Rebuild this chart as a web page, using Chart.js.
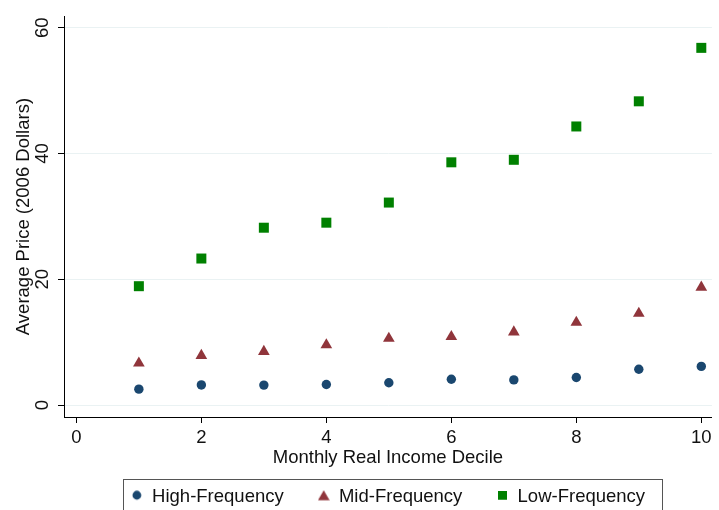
<!DOCTYPE html>
<html>
<head>
<meta charset="utf-8">
<script src="https://cdn.jsdelivr.net/npm/chart.js@4"></script>
<style>
  html, body { margin: 0; padding: 0; background: #fff; }
  canvas { display: block; }
</style>
</head>
<body>
<canvas id="chart" width="719" height="510"></canvas>
<script>
// Income deciles and average prices (2006 dollars) by purchase frequency
const deciles = [1, 2, 3, 4, 5, 6, 7, 8, 9, 10];
const highFrequency = [2.53, 3.2, 3.17, 3.27, 3.54, 4.1, 4.0, 4.38, 5.7, 6.15];
const midFrequency = [6.65, 7.86, 8.5, 9.55, 10.6, 10.87, 11.6, 13.14, 14.56, 18.73];
const lowFrequency = [18.9, 23.3, 28.2, 29.0, 32.2, 38.6, 39.0, 44.3, 48.3, 56.8];

const seriesNames = ['High-Frequency', 'Mid-Frequency', 'Low-Frequency'];
const xTickValues = [0, 2, 4, 6, 8, 10];
const yTickValues = [0, 20, 40, 60];

const FONT = "'Liberation Sans', Arial, Helvetica, sans-serif";
const FONT_SIZE = 18.5;
const TEXT = '#111';
const NAVY = '#1a476f';
const MAROON = '#90353b';
const GREEN = '#008000';
const LEGEND_HEIGHT = 56;

const toPoints = ys => deciles.map((d, i) => ({ x: d, y: ys[i] }));

// Small marker images for the legend keys; the shape sits in the upper part
// of the image so the key lines up with the capital letters of the label.
function markerImage(w, h, color, draw) {
  const lift = 4;
  const c = document.createElement('canvas');
  c.width = w;
  c.height = h + lift;
  const g = c.getContext('2d');
  g.fillStyle = color;
  g.beginPath();
  draw(g, w, h);
  g.fill();
  return c;
}
const legendMarkers = [
  markerImage(10, 10, NAVY, (g) => g.arc(5, 5, 4.4, 0, Math.PI * 2)),
  markerImage(12, 11, MAROON, (g, w, h) => { g.moveTo(w / 2, 0.5); g.lineTo(w - 0.2, h - 0.5); g.lineTo(0.2, h - 0.5); g.closePath(); }),
  markerImage(9, 9, GREEN, (g, w, h) => g.rect(0, 0, w, h))
];

// Keeps the legend row short (its label padding is only meant to space items
// horizontally) and draws a thin frame around it.
const legendFrame = {
  id: 'legendFrame',
  beforeLayout(chart) {
    const lg = chart.legend;
    if (lg && !lg._heightFixed) {
      const fit = lg.fit.bind(lg);
      lg.fit = function () { fit(); this.height = LEGEND_HEIGHT; };
      lg._heightFixed = true;
    }
  },
  afterDraw(chart) {
    const boxes = chart.legend && chart.legend.legendHitBoxes;
    if (!boxes || !boxes.length) return;
    const first = boxes[0];
    const last = boxes[boxes.length - 1];
    const ctx = chart.ctx;
    const l = Math.round(first.left - 8) + 0.5;
    const r = Math.round(last.left + last.width + 17) + 0.5;
    const t = Math.round(first.top - 9) + 0.5;
    ctx.save();
    ctx.strokeStyle = '#555';
    ctx.lineWidth = 1;
    ctx.strokeRect(l, t, r - l, chart.height + 10 - t);
    ctx.restore();
  }
};

const series = (label, values, style, radius, color) => ({
  label,
  data: toPoints(values),
  pointStyle: style,
  pointRadius: radius,
  pointHoverRadius: radius,
  backgroundColor: color,
  borderColor: color,
  borderWidth: 0,
  pointBorderWidth: 0
});

new Chart(document.getElementById('chart'), {
  type: 'scatter',
  data: {
    datasets: [
      series(seriesNames[0], highFrequency, 'circle', 4.7, NAVY),
      series(seriesNames[1], midFrequency, 'triangle', 6.75, MAROON),
      series(seriesNames[2], lowFrequency, 'rect', 7.07, GREEN)
    ]
  },
  options: {
    responsive: false,
    animation: false,
    events: [],
    layout: { padding: { left: 0, right: 0, top: 14, bottom: 0 } },
    plugins: {
      tooltip: { enabled: false },
      legend: {
        position: 'bottom',
        fullSize: false,
        labels: {
          usePointStyle: true,
          boxWidth: 12,
          boxHeight: 9,
          padding: 34,
          color: TEXT,
          font: { family: FONT, size: FONT_SIZE },
          generateLabels(chart) {
            const items = Chart.defaults.plugins.legend.labels.generateLabels(chart);
            items.forEach((item, i) => { item.pointStyle = legendMarkers[i]; });
            return items;
          }
        }
      }
    },
    scales: {
      x: {
        type: 'linear',
        min: -0.198,
        max: 10.17,
        afterBuildTicks: s => { s.ticks = xTickValues.map(v => ({ value: v })); },
        afterFit: s => { s.height = 37; s.paddingLeft = 0; s.paddingRight = 0; },
        grid: { drawOnChartArea: false, tickLength: 6, tickColor: '#000', tickWidth: 1 },
        border: { display: true, color: '#000', width: 1 },
        ticks: { padding: 4, color: TEXT, font: { family: FONT, size: FONT_SIZE }, maxRotation: 0, autoSkip: false },
        title: {
          display: true,
          text: 'Monthly Real Income Decile',
          color: TEXT,
          font: { family: FONT, size: FONT_SIZE },
          padding: { top: 0, bottom: -15.1 }
        }
      },
      y: {
        type: 'linear',
        min: -1.9,
        max: 61.85,
        afterBuildTicks: s => { s.ticks = yTickValues.map(v => ({ value: v })); },
        afterFit: s => { s.width = 64; },
        grid: { color: '#eaf2f3', lineWidth: 1, tickLength: 6, tickColor: '#000', tickWidth: 1 },
        border: { display: true, color: '#000', width: 1 },
        ticks: {
          padding: 5,
          minRotation: 90,
          maxRotation: 90,
          crossAlign: 'center',
          color: TEXT,
          font: { family: FONT, size: FONT_SIZE },
          autoSkip: false
        },
        title: {
          display: true,
          text: 'Average Price (2006 Dollars)',
          color: TEXT,
          font: { family: FONT, size: FONT_SIZE },
          padding: { top: 12.9, bottom: 0 }
        }
      }
    }
  },
  plugins: [legendFrame]
});
</script>
</body>
</html>
